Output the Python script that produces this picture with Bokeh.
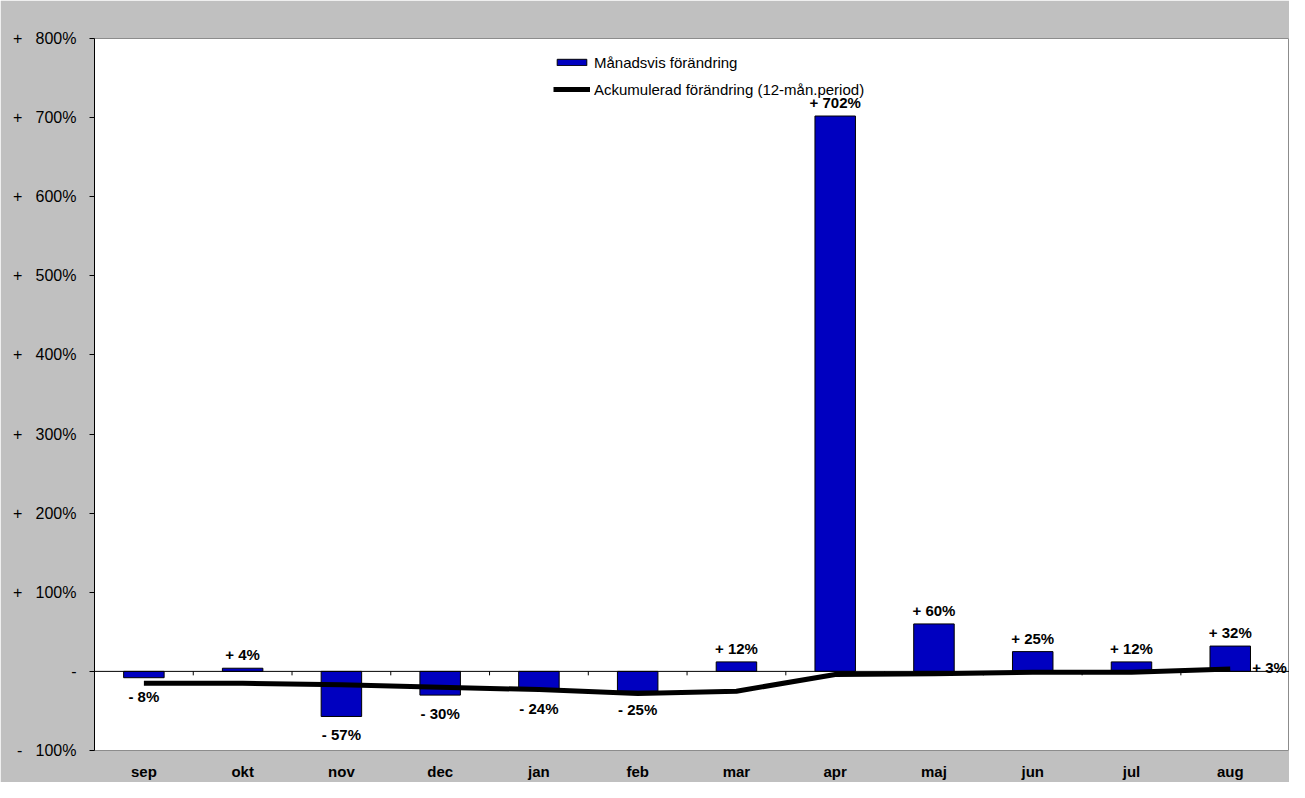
from bokeh.plotting import figure
from bokeh.models import (ColumnDataSource, FixedTicker, Range1d, Legend, LegendItem, Span, Label)
from bokeh.core.properties import value
from bokeh.embed import file_html
from bokeh.resources import INLINE

months = ["sep", "okt", "nov", "dec", "jan", "feb", "mar", "apr", "maj", "jun", "jul", "aug"]
monthly = [-8, 4, -57, -30, -24, -25, 12, 702, 60, 25, 12, 32]
accum = [-15, -15, -17, -20, -23, -28, -25, -4, -3, -1, -1, 3]
y_ticks = [-100, 0, 100, 200, 300, 400, 500, 600, 700, 800]

NB = "\u00a0"

def fmt(v):
    if v > 0:
        return "+ %d%%" % v
    if v < 0:
        return "- %d%%" % abs(v)
    return "-"

def fmt_axis(v):
    if v > 0:
        return "+" + NB * 3 + "%d%%" % v
    if v < 0:
        return "-" + NB * 3 + "%d%%" % abs(v)
    return "-"

FONT = "Liberation Sans"
x = list(range(len(months)))

p = figure(width=1289, height=782, output_backend="svg", toolbar_location=None,
           x_range=Range1d(-0.5, len(months) - 0.4), y_range=Range1d(-100, 800),
           min_border_left=94, min_border_top=38, min_border_right=0, min_border_bottom=32)
p.background_fill_color = "white"
p.border_fill_color = "#C0C0C0"
p.outline_line_color = "#8C8C8C"
p.outline_line_width = 1
p.xgrid.visible = False
p.ygrid.visible = False

# y axis
p.yaxis.ticker = FixedTicker(ticks=y_ticks)
p.yaxis.major_label_overrides = {t: fmt_axis(t) for t in y_ticks}
p.yaxis.major_label_text_font = FONT
p.yaxis.major_label_text_font_size = "16px"
p.yaxis.major_label_text_color = "black"
p.yaxis.major_tick_in = 0
p.yaxis.major_tick_out = 5
p.yaxis.minor_tick_line_color = None
p.yaxis.axis_line_color = "black"
p.yaxis.major_tick_line_color = "black"
p.yaxis.major_label_standoff = 13

# x axis (labels only)
p.xaxis.ticker = FixedTicker(ticks=x)
p.xaxis.major_label_overrides = {i: m for i, m in enumerate(months)}
p.xaxis.major_label_text_font = FONT
p.xaxis.major_label_text_font_style = "bold"
p.xaxis.major_label_text_font_size = "15px"
p.xaxis.major_label_text_color = "black"
p.xaxis.axis_line_color = None
p.xaxis.major_tick_line_color = None
p.xaxis.minor_tick_line_color = None
p.xaxis.major_tick_out = 0
p.xaxis.major_tick_in = 0
p.xaxis.major_label_standoff = 12

# bars
src = ColumnDataSource(dict(x=x, v=monthly))
bars = p.vbar(x="x", top="v", bottom=0, width=0.41, source=src,
              fill_color="#0000C0", line_color="black", line_width=1)

# zero line with category boundary ticks
p.add_layout(Span(location=0, dimension="width", line_color="black", line_width=1))
bx = [i + 0.5 for i in x[:-1]]
p.segment(x0=bx, x1=bx, y0=[0] * len(bx), y1=[-5] * len(bx), line_color="black", line_width=1)

# accumulated line
line = p.line(x, accum, line_color="black", line_width=5)

# bar labels
pos = [i for i, v in enumerate(monthly) if v >= 0]
neg = [i for i, v in enumerate(monthly) if v < 0]
p.text(x=[x[i] for i in pos], y=[monthly[i] for i in pos], text=[fmt(monthly[i]) for i in pos],
       text_align="center", text_baseline="bottom", y_offset=-5,
       text_font=value(FONT), text_font_style="bold", text_font_size="15px", text_color="black")
p.text(x=[x[i] for i in neg], y=[monthly[i] for i in neg], text=[fmt(monthly[i]) for i in neg],
       text_align="center", text_baseline="top", y_offset=10,
       text_font=value(FONT), text_font_style="bold", text_font_size="15px", text_color="black")
# line end label
p.add_layout(Label(x=x[-1], y=accum[-1], text=fmt(accum[-1]), text_align="left",
                   text_baseline="middle", x_offset=22, y_offset=2,
                   text_font=FONT, text_font_style="bold", text_font_size="15px",
                   text_color="black"))

legend = Legend(items=[LegendItem(label="Månadsvis förändring", renderers=[bars]),
                       LegendItem(label="Ackumulerad förändring (12-mån.period)", renderers=[line])],
                location=(459, 651), orientation="vertical",
                background_fill_alpha=0, border_line_color=None,
                label_text_font=FONT, label_text_font_size="15px", label_text_color="black",
                glyph_width=37, glyph_height=8, label_height=20, label_standoff=4,
                spacing=7, padding=0, margin=0)
p.add_layout(legend)

open("out.html", "w").write(file_html(p, INLINE))
